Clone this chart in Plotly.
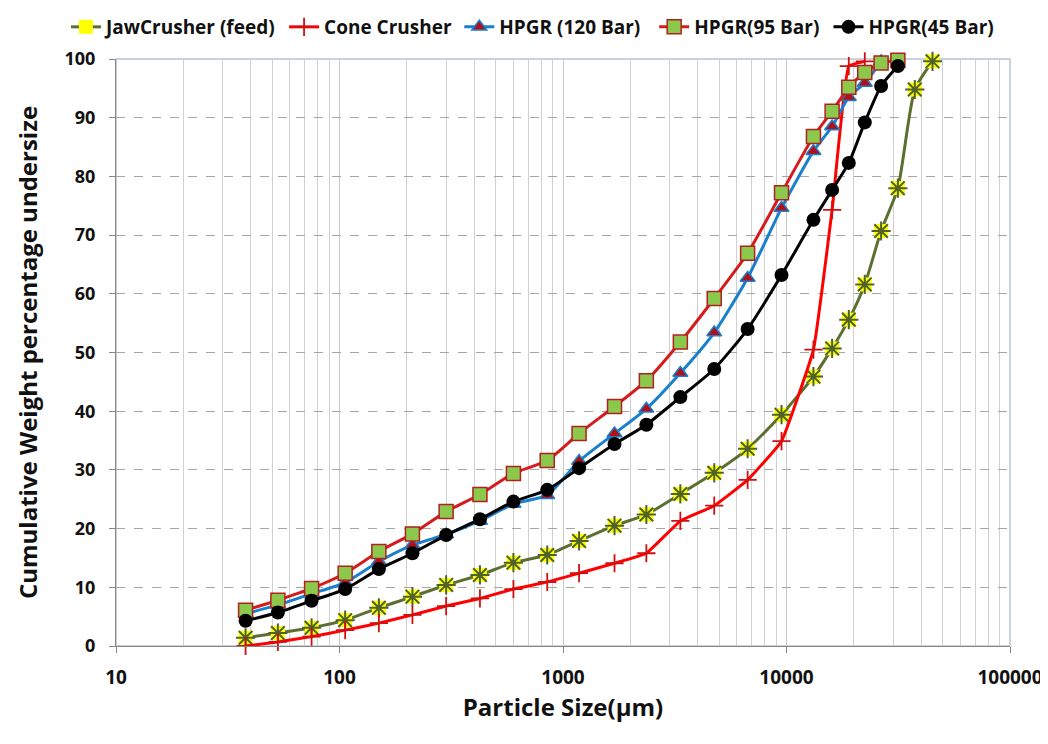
import plotly.graph_objects as go

sizes = [38, 53, 75, 106, 150, 212, 300, 425, 600, 850, 1180, 1700, 2360, 3350,
         4750, 6700, 9500, 13200, 16000, 19000, 22400, 26500, 31500, 37500, 45000]

jaw = [1.4, 2.2, 3.1, 4.4, 6.5, 8.4, 10.4, 12.1, 14.2, 15.5, 17.9, 20.5, 22.4, 25.9,
       29.5, 33.6, 39.4, 45.9, 50.7, 55.6, 61.6, 70.7, 78.0, 94.8, 99.6]
cone = [0.0, 0.7, 1.6, 2.7, 3.9, 5.3, 6.8, 8.1, 9.7, 10.9, 12.4, 14.1, 15.8, 21.3,
        23.9, 28.3, 34.9, 50.5, 74.3, 98.8, 99.6]
hpgr120 = [5.5, 7.0, 8.9, 10.8, 14.4, 17.2, 19.0, 21.3, 24.2, 25.7, 31.5, 36.2, 40.4, 46.5,
           53.4, 62.7, 74.6, 84.3, 88.5, 93.5, 95.9, 99.6]
hpgr95 = [6.1, 7.8, 9.8, 12.4, 16.1, 19.1, 22.9, 25.8, 29.4, 31.6, 36.2, 40.8, 45.2, 51.8,
          59.2, 66.9, 77.2, 86.8, 91.1, 95.2, 97.7, 99.3, 99.8]
hpgr45 = [4.3, 5.7, 7.7, 9.7, 13.1, 15.8, 18.9, 21.6, 24.6, 26.6, 30.3, 34.4, 37.7, 42.4,
          47.2, 54.0, 63.2, 72.6, 77.7, 82.3, 89.2, 95.4, 98.8]

x_ticks = [10, 100, 1000, 10000, 100000]
y_ticks = list(range(0, 101, 10))

FONT = "Open Sans"
TXT = "#111111"
fig = go.Figure()

# JawCrusher: yellow square background + olive asterisk
fig.add_trace(go.Scatter(
    x=sizes[:len(jaw)], y=jaw, name="JawCrusher (feed)", mode="lines+markers",
    line=dict(color="#5b6f2e", width=3, shape="spline", smoothing=0.6),
    marker=dict(symbol="square", size=14, color="#ffff00", line=dict(width=0)),
    cliponaxis=False, legend="legend"))
fig.add_trace(go.Scatter(
    x=sizes[:len(jaw)], y=jaw, mode="markers", showlegend=False,
    marker=dict(symbol="asterisk-open", size=16, color="#4f6228", line=dict(width=2, color="#4f6228")),
    cliponaxis=False, hoverinfo="skip"))

fig.add_trace(go.Scatter(
    x=sizes[:len(cone)], y=cone, name="Cone Crusher", mode="lines+markers",
    line=dict(color="#ff0000", width=3, shape="spline", smoothing=0.3),
    marker=dict(symbol="cross-thin-open", size=13, color="#d01010", line=dict(width=1.8, color="#d01010")),
    cliponaxis=False, legend="legend2"))

fig.add_trace(go.Scatter(
    x=sizes[:len(hpgr120)], y=hpgr120, name="HPGR (120 Bar)", mode="lines+markers",
    line=dict(color="#1a7fcc", width=3, shape="spline", smoothing=0.6),
    marker=dict(symbol="triangle-up", size=13, color="#b01018", line=dict(width=1.5, color="#1a7fcc")),
    cliponaxis=False, legend="legend3"))

fig.add_trace(go.Scatter(
    x=sizes[:len(hpgr95)], y=hpgr95, name="HPGR(95 Bar)", mode="lines+markers",
    line=dict(color="#d41c1c", width=3, shape="spline", smoothing=0.6),
    marker=dict(symbol="square", size=14, color="#8cc84b", line=dict(width=1.5, color="#b02020")),
    cliponaxis=False, legend="legend4"))

fig.add_trace(go.Scatter(
    x=sizes[:len(hpgr45)], y=hpgr45, name="HPGR(45 Bar)", mode="lines+markers",
    line=dict(color="#000000", width=3, shape="spline", smoothing=0.6),
    marker=dict(symbol="circle", size=14, color="#000000"),
    cliponaxis=False, legend="legend5"))

def leg(xpos):
    return dict(orientation="h", x=xpos, y=1.0869, xanchor="left", yanchor="top",
                font=dict(family=FONT, size=19, color=TXT, weight="bold"),
                itemwidth=30, bgcolor="rgba(0,0,0,0)")

fig.update_layout(
    width=1048, height=744,
    paper_bgcolor="white", plot_bgcolor="white",
    margin=dict(l=108, r=46, t=51, b=106, autoexpand=False),
    font=dict(family=FONT, size=16, color=TXT),
    legend=leg(-0.056), legend2=leg(0.188), legend3=leg(0.384),
    legend4=leg(0.602), legend5=leg(0.797),
    showlegend=True,
)

fig.update_xaxes(
    type="log", range=[1, 5],
    tickvals=x_ticks, ticktext=[str(v) for v in x_ticks],
    tickfont=dict(family=FONT, size=19, weight="bold", color=TXT),
    ticks="outside", ticklen=6, tickcolor="#868686", ticklabelstandoff=8,
    showline=True, linecolor="#868686", linewidth=1,
    showgrid=True, gridcolor="#c8c8c8", gridwidth=1,
    minor=dict(dtick="D1", showgrid=True, gridcolor="#d0d0d0", gridwidth=1, ticks=""),
    title=dict(text="Particle Size(µm)", font=dict(family=FONT, size=24, weight="bold", color=TXT),
               standoff=7),
    zeroline=False,
)
fig.update_yaxes(
    range=[0, 100], tickvals=y_ticks,
    tickfont=dict(family=FONT, size=18, weight="bold", color=TXT),
    ticks="outside", ticklen=6, tickcolor="#868686", ticklabelstandoff=10,
    showline=True, linecolor="#868686", linewidth=1,
    showgrid=True, gridcolor="#a6a6a6", griddash="dash", gridwidth=1,
    title=dict(text="Cumulative Weight percentage undersize",
               font=dict(family=FONT, size=24, weight="bold", color=TXT), standoff=20),
    zeroline=False,
)

# plot-area border (top and right)
fig.add_shape(type="rect", xref="paper", yref="paper", x0=0, y0=0, x1=1, y1=1,
              line=dict(color="#b9c3cf", width=1.5), layer="below")

fig.write_html("out.html")
